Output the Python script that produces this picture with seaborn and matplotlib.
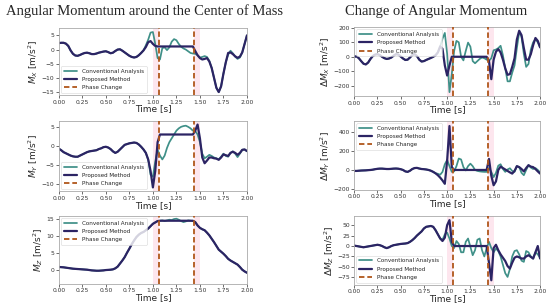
import numpy as np
import pandas as pd
import matplotlib
matplotlib.use("Agg")
import matplotlib.pyplot as plt
import seaborn as sns

# ---------------- data ----------------
TIME = np.round(np.arange(81) * 0.025, 3)  # 0.00 ... 2.00 s
PHASE_CHANGES = [1.06, 1.44]
TRANSITION_BANDS = [(1.0, 1.06), (1.44, 1.50)]
X_TICKS = [0.0, 0.25, 0.5, 0.75, 1.0, 1.25, 1.5, 1.75, 2.0]

mx_conv = [
    2.3, 2.4, 2.4, 2.1, 1.3, -0.3, -1.5, -2.1,
    -2.2, -1.9, -1.5, -1.2, -1.1, -1.3, -1.6, -1.6,
    -1.4, -1.1, -0.9, -0.7, -0.6, -0.9, -1.3, -1.1,
    -0.5, 0.0, 0.1, -0.4, -1.0, -1.6, -2.2, -2.6,
    -2.8, -2.6, -2.0, -1.2, -0.3, 1.5, 3.5, 6.0,
    6.2, 2.0, -3.0, -3.5, 0.5, 0.8, -0.2, 0.8,
    2.8, 3.7, 3.3, 2.0, 1.0, 0.4, 0.0, -0.6,
    -1.2, -1.4, -1.5, -2.0, -2.8, -2.6, -2.3, -2.6,
    -4.0, -6.5, -10.0, -13.5, -15.0, -13.0, -8.5, -4.5,
    -1.8, -0.4, -1.3, -2.5, -3.3, -2.8, -1.0, 2.0,
    5.0]
mx_prop = [
    2.3, 2.4, 2.4, 2.1, 1.3, -0.3, -1.5, -2.1,
    -2.2, -1.9, -1.5, -1.2, -1.1, -1.3, -1.6, -1.6,
    -1.4, -1.1, -0.9, -0.7, -0.6, -0.9, -1.3, -1.1,
    -0.5, 0.0, 0.1, -0.4, -1.0, -1.6, -2.2, -2.6,
    -2.8, -2.6, -2.0, -1.2, -0.3, 0.9, 2.6, 3.0,
    2.0, 1.3, 1.1, 1.1, 1.1, 1.1, 1.1, 1.1,
    1.1, 1.1, 1.1, 1.1, 1.1, 1.1, 1.1, 1.1,
    1.1, 1.1, -0.5, -2.0, -3.0, -3.5, -3.3, -3.0,
    -4.2, -6.5, -10.0, -13.5, -15.0, -13.0, -8.5, -4.5,
    -1.2, -1.0, -1.6, -2.4, -2.9, -2.5, -1.0, 2.0,
    5.0]

my_conv = [
    -0.7, -1.1, -1.6, -1.9, -2.2, -2.5, -2.7, -2.8,
    -2.8, -2.5, -2.2, -1.9, -1.6, -1.4, -1.3, -1.2,
    -1.1, -0.8, -0.6, -0.3, -0.2, -0.4, -0.8, -1.4,
    -1.8, -1.5, -0.9, -0.3, 0.3, 0.5, 0.7, 0.8,
    0.9, 0.8, 0.4, -0.2, -0.9, -1.8, -3.6, -7.5,
    -8.0, -4.0, -1.0, -2.5, -3.5, -2.5, -0.5, 1.0,
    2.0, 3.0, 4.0, 4.6, 5.0, 5.2, 5.3, 5.0,
    4.6, 4.0, 3.9, 3.0, 1.0, -2.0, -3.2, -2.8,
    -2.3, -2.6, -3.0, -3.2, -3.5, -2.8, -2.0, -2.6,
    -2.8, -1.8, -1.4, -2.0, -2.9, -2.0, -1.0, -0.9,
    -1.4]
my_prop = [
    -0.7, -1.1, -1.6, -1.9, -2.2, -2.5, -2.7, -2.8,
    -2.8, -2.5, -2.2, -1.9, -1.6, -1.4, -1.3, -1.2,
    -1.1, -0.8, -0.6, -0.3, -0.2, -0.4, -0.8, -1.4,
    -1.8, -1.5, -0.9, -0.3, 0.3, 0.5, 0.7, 0.8,
    0.9, 0.8, 0.4, -0.2, -0.9, -1.8, -3.5, -6.5,
    -10.8, -6.5, 1.0, 3.0, 3.0, 3.0, 3.0, 3.0,
    3.0, 3.0, 3.0, 3.0, 3.0, 3.0, 3.0, 3.0,
    3.0, 3.0, 4.0, 5.6, 2.0, -3.0, -4.5, -3.8,
    -3.0, -3.0, -3.2, -3.3, -3.6, -3.0, -2.2, -2.4,
    -2.6, -1.8, -1.5, -1.8, -2.3, -1.8, -1.0, -0.9,
    -1.3]

mz_conv = [
    0.8, 0.75, 0.7, 0.6, 0.5, 0.4, 0.3, 0.25,
    0.2, 0.15, 0.1, 0.05, 0.0, -0.1, -0.2, -0.25,
    -0.3, -0.3, -0.25, -0.2, -0.1, -0.05, 0.0, 0.1,
    0.4, 0.9, 1.8, 2.7, 3.7, 5.0, 6.2, 7.5,
    8.6, 9.6, 10.3, 10.8, 11.1, 11.6, 12.1, 12.8,
    13.5, 13.9, 14.3, 14.4, 14.5, 14.3, 14.5, 14.7,
    14.6, 14.9, 15.0, 14.7, 14.3, 14.0, 14.2, 14.5,
    14.4, 14.3, 14.0, 13.0, 12.3, 11.9, 11.6, 10.9,
    10.1, 9.1, 8.1, 7.0, 5.9, 5.3, 4.7, 4.0,
    3.2, 2.7, 2.3, 1.9, 1.5, 0.8, 0.0, -0.5,
    -0.9]
mz_prop = [
    0.8, 0.75, 0.7, 0.6, 0.5, 0.4, 0.3, 0.25,
    0.2, 0.15, 0.1, 0.05, 0.0, -0.1, -0.2, -0.25,
    -0.3, -0.3, -0.25, -0.2, -0.1, -0.05, 0.0, 0.1,
    0.4, 0.9, 1.8, 2.7, 3.7, 5.0, 6.2, 7.5,
    8.6, 9.6, 10.3, 10.8, 11.1, 11.6, 12.1, 12.8,
    13.5, 13.9, 14.3, 14.4, 14.4, 14.4, 14.4, 14.4,
    14.4, 14.4, 14.4, 14.4, 14.4, 14.4, 14.4, 14.4,
    14.4, 14.4, 14.0, 13.0, 12.3, 11.9, 11.6, 10.9,
    10.1, 9.1, 8.1, 7.0, 5.9, 5.3, 4.7, 4.0,
    3.2, 2.7, 2.3, 1.9, 1.5, 0.8, 0.0, -0.5,
    -0.9]

dmx_conv = [
    0, 3, -10, -30, -48, -53, -40, -15,
    5, 15, 18, 12, 0, -10, -15, -12,
    -5, 8, 18, 15, 2, -12, -22, -20,
    -5, 12, 18, 5, -20, -33, -30, -22,
    -15, -8, 0, 10, 30, 70, 125, 165,
    20, -245, -120, 40, 110, 100, 0, -25,
    40, 98, 70, -30, -45, -30, -15, -5,
    -10, -20, -28, -10, 45, 50, 60, 76,
    10, -80, -170, -170, -110, -60, 60, 170,
    140, 20, -70, -50, 50, 100, 122, 100,
    65]
dmx_prop = [
    0, 3, -10, -30, -48, -53, -40, -15,
    5, 15, 18, 12, 0, -10, -15, -12,
    -5, 8, 18, 15, 2, -12, -22, -20,
    -5, 12, 18, 5, -20, -33, -30, -22,
    -15, -8, 0, 10, 30, 72, 55, -60,
    -130, -60, 0, 0, 0, 0, 0, 0,
    0, 0, 0, 0, 0, 0, 0, 0,
    0, 0, -30, -155, -20, 35, 53, 30,
    -20, -80, -125, -120, -70, -10, 120, 180,
    150, 60, -20, -20, 18, 80, 130, 110,
    65]

dmy_conv = [
    -10, -10, -8, -6, -5, -4, -2, 0,
    3, 8, 12, 14, 14, 12, 10, 10,
    12, 14, 15, 13, 8, 0, -15, -20,
    -8, 10, 20, 22, 15, 10, 8, 5,
    0, -8, -20, -35, -40, -50, -20, 60,
    105, 40, -20, -15, 40, 120, 110, 30,
    -5, 40, 66, 40, 0, -10, -15, -18,
    -20, -20, 20, -20, -75, -30, 45, 60,
    10, -20, 5, 18, -10, -20, 40, 30,
    -30, -55, 0, 50, 25, 10, 20, 0,
    -25]
dmy_prop = [
    -10, -10, -8, -6, -5, -4, -2, 0,
    3, 8, 12, 14, 14, 12, 10, 10,
    12, 14, 15, 13, 8, 0, -15, -20,
    -8, 10, 20, 22, 15, 10, 8, 5,
    0, -8, -20, -35, -55, -80, -110, -145,
    100, 460, 30, 0, 0, 0, 0, 0,
    0, 0, 0, 0, 0, 0, 0, 0,
    0, 0, 115, -60, -160, -120, 0, 35,
    20, 5, -10, -25, -38, -10, 40, 30,
    10, -15, 20, 50, 35, 30, 10, -15,
    -38]

dmz_conv = [
    1, 0, -1, -2, -3, -2, -1, 0,
    1, 2, 3, 2, 0, -3, -5, -3,
    0, 2, 3, 4, 5, 5.5, 6, 7,
    10, 14, 19, 25, 30, 35, 42, 46,
    47, 48, 46, 38, 28, 18, 15, 28,
    32, 18, 0, -5, 12, 5, -15, -15,
    10, 18, -2, -22, -10, 15, 18, -10,
    -25, -5, 10, -5, -15, -6, -12, -25,
    -45, -65, -74, -55, -25, -12, -10, -20,
    -35, -38, -12, -15, -25, -30, -15, -20,
    -28]
dmz_prop = [
    1, 0, -1, -2, -3, -2, -1, 0,
    1, 2, 3, 2, 0, -3, -5, -3,
    0, 2, 3, 4, 5, 5.5, 6, 7,
    10, 14, 19, 25, 30, 35, 42, 46,
    47, 48, 46, 38, 28, 18, 12, 20,
    50, 62, 10, 0, 0, 0, 0, 0,
    0, 0, 0, 0, 0, 0, 0, 0,
    0, 0, -40, -82, -5, 3, -10, -20,
    -28, -36, -48, -54, -40, -28, -25, -27,
    -30, -30, -25, -22, -26, -30, -15, 0,
    -30]

LABEL_CONV = "Conventional Analysis"
LABEL_PROP = "Proposed Method"
LABEL_PHASE = "Phase Change"

# ---------------- style ----------------
sns.set_style("ticks")
plt.rcParams['font.family'] = ['DejaVu Sans']
plt.rcParams['mathtext.fontset'] = 'dejavusans'

C_CONV = "#3f9088"
C_PROP = "#2c2464"
C_PHASE = "#b0561a"
C_BAND = "#fde6ee"

fig = plt.figure(figsize=(5.5, 3.05), dpi=100)

panels = [
    # (left, bottom, width, height, conv, prop, ylabel, ylim, yticks, legend loc)
    (0.107, 0.688, 0.342, 0.220, mx_conv, mx_prop, r"$M_X$ [m/s$^2$]", (-16.1, 7.6), [-15, -10, -5, 0, 5], "lower left"),
    (0.107, 0.373, 0.342, 0.230, my_conv, my_prop, r"$M_Y$ [m/s$^2$]", (-11.8, 6.5), [-10, -5, 0, 5], "lower left"),
    (0.107, 0.070, 0.342, 0.223, mz_conv, mz_prop, r"$M_Z$ [m/s$^2$]", (-4.1, 15.9), [0, 5, 10, 15], "upper left"),
    (0.644, 0.685, 0.338, 0.226, dmx_conv, dmx_prop, r"$\Delta M_X$ [m/s$^2$]", (-272, 205), [-200, -100, 0, 100, 200], "upper left"),
    (0.644, 0.377, 0.338, 0.226, dmy_conv, dmy_prop, r"$\Delta M_Y$ [m/s$^2$]", (-210, 512), [-200, 0, 200, 400], "upper left"),
    (0.644, 0.066, 0.338, 0.226, dmz_conv, dmz_prop, r"$\Delta M_Z$ [m/s$^2$]", (-93, 72), [-75, -50, -25, 0, 25, 50], "lower left"),
]

for (l, b, w, h, conv, prop, ylab, ylim, yticks, loc) in panels:
    ax = fig.add_axes([l, b, w, h])
    for (a, c) in TRANSITION_BANDS:
        ax.axvspan(a, c, color=C_BAND, lw=0, zorder=0)
    df = pd.DataFrame({"t": TIME, "conv": conv, "prop": prop})
    sns.lineplot(data=df, x="t", y="conv", ax=ax, color=C_CONV, lw=1.25, label=LABEL_CONV)
    sns.lineplot(data=df, x="t", y="prop", ax=ax, color=C_PROP, lw=1.6, label=LABEL_PROP)
    for i, xc in enumerate(PHASE_CHANGES):
        ax.axvline(xc, color=C_PHASE, ls=(0, (3, 1.6)), lw=1.3,
                   label=LABEL_PHASE if i == 0 else None, zorder=5)
    ax.set_xlim(0, 2)
    ax.set_ylim(*ylim)
    ax.set_xticks(X_TICKS)
    ax.set_xticklabels([f"{v:.2f}" for v in X_TICKS])
    ax.set_yticks(yticks)
    ax.tick_params(labelsize=4.3, length=2, width=0.5, pad=1.2, colors="#333333")
    ax.set_xlabel("Time [s]", fontsize=6.5, labelpad=0)
    ax.set_ylabel(ylab, fontsize=6.5, labelpad=1)
    for s in ax.spines.values():
        s.set_color("#aaaaaa")
        s.set_linewidth(0.6)
    leg = ax.legend(loc=loc, fontsize=4.1, frameon=True, borderpad=0.5,
                    handlelength=2.3, labelspacing=0.55, borderaxespad=0.4,
                    framealpha=0.8)
    leg.get_frame().set_linewidth(0.4)

fig.text(0.262, 0.962, "Angular Momentum around the Center of Mass",
         family="Liberation Serif", fontsize=10.5, ha="center", va="center")
fig.text(0.793, 0.962, "Change of Angular Momentum",
         family="Liberation Serif", fontsize=10.5, ha="center", va="center")

fig.savefig("out.png", dpi=100)
